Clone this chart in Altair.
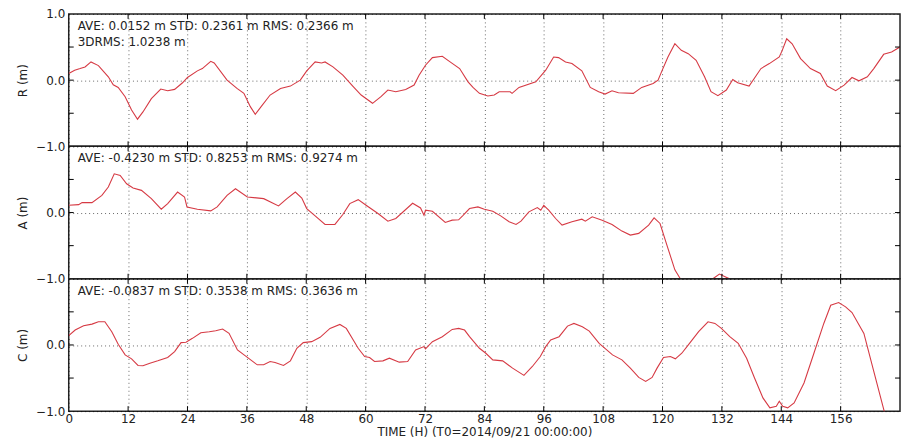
import altair as alt
import pandas as pd

# ---------------- data ----------------
x_ticks = [0, 12, 24, 36, 48, 60, 72, 84, 96, 108, 120, 132, 144, 156]
y_ticks = [-1.0, -0.5, 0.0, 0.5, 1.0]
x_title = "TIME (H) (T0=2014/09/21 00:00:00)"

stats_R = ["AVE: 0.0152 m STD: 0.2361 m RMS: 0.2366 m", "3DRMS: 1.0238 m"]
stats_A = ["AVE: -0.4230 m STD: 0.8253 m RMS: 0.9274 m"]
stats_C = ["AVE: -0.0837 m STD: 0.3538 m RMS: 0.3636 m"]

series_R = [
    (0, 0.10), (1.2, 0.15), (2.3, 0.175), (3.3, 0.2), (4.5, 0.275), (6, 0.22),
    (8, 0.05), (9, -0.07), (10, -0.11), (11.4, -0.25), (12.7, -0.45), (13.9, -0.59),
    (15, -0.48), (16.7, -0.28), (18.6, -0.135), (20, -0.16), (21.4, -0.14), (23, -0.04),
    (24, 0.04), (26, 0.14), (27, 0.175), (28.7, 0.285), (29.4, 0.26), (32, 0.0),
    (34, -0.125), (35.4, -0.2), (36.7, -0.4), (37.7, -0.515), (39, -0.39), (40.7, -0.225),
    (42.8, -0.125), (44.8, -0.09), (46.8, 0.0), (48.1, 0.14), (49.8, 0.275), (51.1, 0.26),
    (51.8, 0.275), (53.4, 0.2), (55.4, 0.075), (57.4, -0.09), (59.1, -0.225), (61.4, -0.35),
    (63.1, -0.25), (64.5, -0.15), (66.1, -0.175), (68.1, -0.14), (69.8, -0.075), (70.8, 0.075),
    (72.1, 0.225), (73.5, 0.34), (75.5, 0.36), (77.0, 0.28), (79, 0.175), (80.7, -0.025),
    (81.7, -0.11), (83, -0.2), (84.7, -0.24), (86, -0.225), (87, -0.175), (89.2, -0.175),
    (89.6, -0.2), (91, -0.11), (94.4, -0.025), (96.4, 0.15), (98, 0.35), (99, 0.34),
    (100.4, 0.275), (101.7, 0.25), (103.7, 0.14), (105.4, -0.11), (107.1, -0.175), (108.4, -0.21),
    (109.8, -0.16), (111.1, -0.19), (114.1, -0.2), (115.8, -0.11), (118.1, -0.05), (119.1, 0.0),
    (119.8, 0.125), (121.1, 0.35), (122.5, 0.55), (123.8, 0.45), (125.2, 0.4), (126.8, 0.3),
    (128.5, 0.05), (129.8, -0.175), (131.2, -0.235), (132.9, -0.15), (134.2, 0.01), (135.2, -0.04),
    (137.5, -0.09), (139.9, 0.175), (141.6, 0.25), (143.6, 0.35), (144.2, 0.45), (145.1, 0.625),
    (146.2, 0.55), (147.9, 0.325), (149.9, 0.175), (151.9, 0.1), (153.3, -0.09), (155, -0.16),
    (156.7, -0.075), (158.3, 0.04), (159.7, -0.01), (161.4, 0.05), (162.7, 0.175), (164.7, 0.39),
    (166.3, 0.425), (168, 0.5),
]

series_A = [
    (0, 0.11), (2, 0.12), (2.7, 0.15), (4.7, 0.15), (6.7, 0.26), (8, 0.385), (9.2, 0.585),
    (10.4, 0.56), (11.7, 0.435), (13, 0.37), (14.7, 0.335), (16.7, 0.21), (18.7, 0.05),
    (20, 0.135), (22, 0.31), (23.4, 0.235), (23.9, 0.085), (26, 0.05), (28.7, 0.025),
    (30, 0.085), (32, 0.26), (33.7, 0.36), (36.1, 0.235), (39.4, 0.21), (42.4, 0.1),
    (44.1, 0.21), (45.8, 0.31), (47.1, 0.22), (48.1, 0.06), (49.8, -0.05), (51.8, -0.18),
    (53.8, -0.18), (55.4, -0.03), (56.8, 0.135), (58.5, 0.195), (60.1, 0.11), (62.5, -0.015),
    (64.5, -0.13), (66.1, -0.09), (69.5, 0.14), (71.1, 0.07), (71.8, -0.04), (72.1, 0.035),
    (73.5, 0.02), (76.1, -0.15), (77.5, -0.115), (78.8, -0.11), (79.6, -0.05), (81, 0.06),
    (82.7, 0.085), (84, 0.05), (85.7, 0.02), (87.3, -0.05), (89, -0.14), (90.4, -0.18),
    (91.4, -0.13), (93, 0.01), (94.7, 0.075), (95.4, 0.035), (96, 0.11), (97, 0.035),
    (98.4, -0.09), (99.7, -0.19), (101.7, -0.14), (103.7, -0.1), (104.4, -0.13), (105.8, -0.065),
    (107.8, -0.115), (109.8, -0.18), (111.8, -0.28), (113.5, -0.34), (115.2, -0.315),
    (117.2, -0.19), (118.3, -0.08), (119.5, -0.165), (121.1, -0.54), (122.5, -0.865),
    (123.6, -1.0), (125, -1.25), (127.5, -1.3), (130.2, -1.0), (131.5, -0.93), (133.5, -1.0),
    (136, -1.4), (144, -1.6), (156, -1.7), (168, -1.8),
]

series_C = [
    (0, 0.14), (1.3, 0.225), (3, 0.29), (4.7, 0.315), (6, 0.35), (7.3, 0.35), (8.7, 0.2),
    (10, 0.01), (11.4, -0.15), (12.7, -0.21), (14, -0.31), (15, -0.315), (16.4, -0.275),
    (18, -0.24), (20, -0.19), (21.4, -0.1), (22.7, 0.035), (23.7, 0.04), (25, 0.1),
    (26.7, 0.185), (28.4, 0.2), (29.7, 0.215), (31.1, 0.24), (32.4, 0.175), (34.1, -0.075),
    (35.7, -0.165), (38.1, -0.3), (39.4, -0.3), (40.7, -0.25), (41.7, -0.265), (43.4, -0.31),
    (44.8, -0.24), (46.1, -0.05), (47.4, 0.035), (49.1, 0.05), (50.8, 0.115), (52.8, 0.25),
    (54.8, 0.31), (56.1, 0.25), (58.5, -0.05), (59.8, -0.175), (60.8, -0.19), (61.8, -0.25),
    (63.5, -0.24), (64.8, -0.2), (66.8, -0.26), (68.5, -0.25), (70.1, -0.075), (71.8, -0.025),
    (72.1, -0.06), (73.5, 0.05), (75.5, 0.125), (77.5, 0.235), (78.8, 0.25), (80, 0.225),
    (81, 0.125), (83, -0.05), (84.3, -0.125), (85.7, -0.225), (87.7, -0.24), (89.7, -0.35),
    (92, -0.46), (93.7, -0.325), (95.3, -0.175), (96.4, -0.025), (97.4, 0.075), (99.1, 0.125),
    (100.8, 0.285), (102.1, 0.325), (103.8, 0.275), (105.2, 0.21), (107.2, 0.025),
    (109.9, -0.15), (111.8, -0.225), (113.5, -0.35), (115.2, -0.49), (116.6, -0.55),
    (117.9, -0.49), (118.9, -0.35), (120.2, -0.19), (121.6, -0.175), (122.6, -0.21),
    (123.9, -0.125), (125.3, 0.01), (127.3, 0.2), (129.2, 0.35), (130.6, 0.325), (131.9, 0.25),
    (133.6, 0.125), (135.3, 0.025), (137, -0.2), (138.6, -0.5), (140.3, -0.8), (141.7, -0.95),
    (143, -0.925), (143.6, -0.85), (144.3, -0.925), (145.3, -0.95), (146.6, -0.875),
    (148.6, -0.575), (150.6, -0.125), (152.6, 0.325), (154, 0.6), (155.6, 0.64), (157, 0.575),
    (158.3, 0.49), (160.7, 0.175), (162.7, -0.4), (164.8, -1.0), (166.5, -1.4), (168, -1.7),
]

# ---------------- styling ----------------
W, H = 835, 133
FONT = "DejaVu Sans"
LINE_COLOR = "#d63a44"
TEXT_COLOR = "#222222"

x_scale = alt.Scale(domain=[0, 168], nice=False, zero=False)
y_scale = alt.Scale(domain=[-1, 1], nice=False, zero=False)


def make_panel(points, ytitle, stats, bottom, top_label=True):
    df = pd.DataFrame(points, columns=["t", "v"])
    if bottom:
        xaxis = alt.Axis(values=x_ticks, format="d", labelFlush=False, title=x_title,
                         grid=True, ticks=False, domain=False, labelPadding=2, titlePadding=2)
    else:
        xaxis = alt.Axis(values=x_ticks, labels=False, grid=True, ticks=False,
                         domain=False, title=None)
    ykw = dict(values=y_ticks, format=".1f", grid=True, ticks=False, domain=False,
               title=ytitle, labelPadding=4, titlePadding=6)
    if not top_label:
        # the "1.0" of this panel sits exactly under the "−1.0" of the panel above
        ykw["labelExpr"] = "datum.value >= 1 ? '' : datum.label"
    yaxis = alt.Axis(**ykw)

    line = alt.Chart(df).mark_line(color=LINE_COLOR, strokeWidth=1.1, clip=True).encode(
        x=alt.X("t:Q", scale=x_scale, axis=xaxis),
        y=alt.Y("v:Q", scale=y_scale, axis=yaxis),
    )

    xt = pd.DataFrame({"t": x_ticks[1:]})
    yt = pd.DataFrame({"v": y_ticks[1:-1]})
    tick_style = dict(color="black", strokeWidth=1)
    tb = alt.Chart(xt).mark_rule(**tick_style).encode(
        x=alt.X("t:Q", scale=x_scale), y=alt.value(H), y2=alt.value(H - 5))
    tt = alt.Chart(xt).mark_rule(**tick_style).encode(
        x=alt.X("t:Q", scale=x_scale), y=alt.value(0), y2=alt.value(5))
    tl = alt.Chart(yt).mark_rule(**tick_style).encode(
        y=alt.Y("v:Q", scale=y_scale), x=alt.value(0), x2=alt.value(5))
    tr = alt.Chart(yt).mark_rule(**tick_style).encode(
        y=alt.Y("v:Q", scale=y_scale), x=alt.value(W), x2=alt.value(W - 5))

    layers = [line, tb, tt, tl, tr]
    for i, s in enumerate(stats):
        tdf = pd.DataFrame({"label": [s]})
        layers.append(
            alt.Chart(tdf).mark_text(align="left", baseline="middle", font=FONT,
                                     fontSize=12, color=TEXT_COLOR).encode(
                text="label:N", x=alt.value(9), y=alt.value(12 + 16 * i))
        )
    return alt.layer(*layers).properties(width=W, height=H)


p1 = make_panel(series_R, "R (m)", stats_R, False, True)
p2 = make_panel(series_A, "A (m)", stats_A, False, False)
p3 = make_panel(series_C, "C (m)", stats_C, True, False)

chart = (
    alt.vconcat(p1, p2, p3, spacing=0, bounds="flush")
    .properties(padding={"left": 8, "top": -2, "right": 0, "bottom": 0})
    .configure_view(stroke="#222222", strokeWidth=1.5)
    .configure_axis(
        gridColor="black", gridDash=[1, 3], gridOpacity=0.6, gridWidth=1,
        labelFont=FONT, labelFontSize=12, labelColor=TEXT_COLOR,
        titleFont=FONT, titleFontSize=12, titleFontWeight="normal", titleColor=TEXT_COLOR,
    )
)

chart.save("out.html", embed_options={"renderer": "svg", "actions": False})
